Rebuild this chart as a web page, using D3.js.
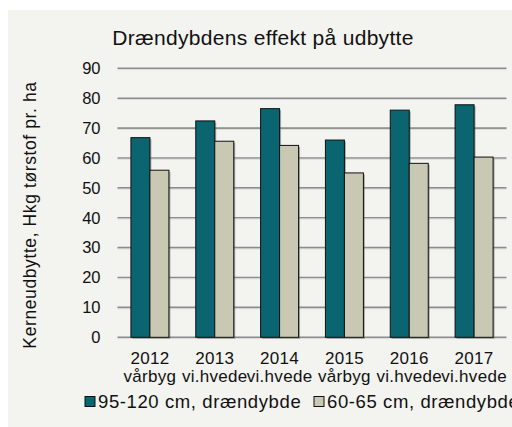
<!DOCTYPE html>
<html>
<head>
<meta charset="utf-8">
<script src="https://cdn.jsdelivr.net/npm/d3@7/dist/d3.min.js"></script>
<style>
  html, body { margin: 0; padding: 0; background: #ffffff; }
  svg { display: block; font-family: "Liberation Sans", Arial, sans-serif; }
</style>
</head>
<body>
<svg id="chart" width="512" height="427"></svg>
<script>
// Yield per year and crop, two drainage depths
const years = ["2012", "2013", "2014", "2015", "2016", "2017"];
const crops = ["vårbyg", "vi.hvede", "vi.hvede", "vårbyg", "vi.hvede", "vi.hvede"];
const seriesNames = ["95-120 cm, drændybde", "60-65 cm, drændybde"];
const deepDrain = [66.8, 72.4, 76.5, 66.0, 76.0, 77.8];
const shallowDrain = [55.9, 65.6, 64.2, 55.0, 58.2, 60.3];
const yTicks = [0, 10, 20, 30, 40, 50, 60, 70, 80, 90];

const colors = ["#0a6570", "#c8c8b3"];
const series = [deepDrain, shallowDrain];

const svg = d3.select("#chart");

// panel background
svg.append("rect").attr("x", 8).attr("y", 10).attr("width", 504).attr("height", 417)
  .attr("fill", "#f3f3ef");

const plot = { left: 117.5, right: 506.5, top: 68.3, bottom: 337.3 };

const x = d3.scaleBand().domain(years).range([plot.left, plot.right]).paddingInner(0).paddingOuter(0);
const y = d3.scaleLinear().domain([0, 90]).range([plot.bottom, plot.top]);
const barW = 19;

// title
svg.append("text").attr("x", 263).attr("y", 45).attr("text-anchor", "middle")
  .attr("font-size", 21).attr("letter-spacing", 0.3).attr("fill", "#111")
  .text("Drændybdens effekt på udbytte");

// gridlines
const grid = svg.append("g");
grid.selectAll("line.g").data(yTicks).join("line")
  .attr("x1", plot.left).attr("x2", plot.right)
  .attr("y1", d => y(d)).attr("y2", d => y(d))
  .attr("stroke", "#8c8c8c").attr("stroke-width", 1.6);
grid.selectAll("line.s").data(yTicks).join("line")
  .attr("x1", plot.left).attr("x2", plot.right)
  .attr("y1", d => y(d) + 1.3).attr("y2", d => y(d) + 1.3)
  .attr("stroke", "#d4d4d0").attr("stroke-width", 0.8);

// y axis labels via d3 axis
const yAxis = svg.append("g").attr("transform", `translate(${plot.left},0)`)
  .call(d3.axisLeft(y).tickValues(yTicks).tickSize(0).tickPadding(17));
yAxis.select(".domain").remove();
yAxis.selectAll("text").attr("font-size", 16.5).attr("fill", "#111")
  .attr("font-family", "Liberation Sans, Arial, sans-serif");

// y axis title
svg.append("text").attr("transform", "translate(36,215) rotate(-90)")
  .attr("text-anchor", "middle").attr("font-size", 17.5).attr("letter-spacing", 0.6).attr("fill", "#111")
  .text("Kerneudbytte, Hkg tørstof pr. ha");

// bars
series.forEach((vals, si) => {
  const g = svg.append("g");
  const xOff = d => x(years[d]) + x.bandwidth() / 2 - barW + si * barW;
  // soft shadow
  g.selectAll("rect.sh").data(vals.map((v, i) => i)).join("rect")
    .attr("x", i => xOff(i) + 1.5).attr("y", i => y(vals[i]) + 1.5)
    .attr("width", barW).attr("height", i => plot.bottom - y(vals[i]))
    .attr("fill", "#555").attr("opacity", 0.45);
  g.selectAll("rect.b").data(vals.map((v, i) => i)).join("rect")
    .attr("x", i => xOff(i)).attr("y", i => y(vals[i]))
    .attr("width", barW).attr("height", i => plot.bottom - y(vals[i]))
    .attr("fill", colors[si]).attr("stroke", "#111").attr("stroke-width", 1);
});

// category labels
const xl = svg.append("g");
xl.selectAll("text.yr").data(years).join("text")
  .attr("x", d => x(d) + x.bandwidth() / 2).attr("y", 363.5)
  .attr("text-anchor", "middle").attr("font-size", 17).attr("letter-spacing", 0.3)
  .attr("fill", "#111").text(d => d);
xl.selectAll("text.cr").data(crops).join("text")
  .attr("x", (d, i) => x(years[i]) + x.bandwidth() / 2).attr("y", 382)
  .attr("text-anchor", "middle").attr("font-size", 17).attr("letter-spacing", 0.3)
  .attr("fill", "#111").text(d => d);

// legend
const legX = [85, 314];
seriesNames.forEach((name, i) => {
  svg.append("rect").attr("x", legX[i]).attr("y", 396.5).attr("width", 10).attr("height", 10)
    .attr("fill", colors[i]).attr("stroke", "#111").attr("stroke-width", 1);
  svg.append("text").attr("x", legX[i] + 13).attr("y", 407.5)
    .attr("font-size", 18.5).attr("letter-spacing", 0.6).attr("fill", "#111").text(name);
});
</script>
</body>
</html>
